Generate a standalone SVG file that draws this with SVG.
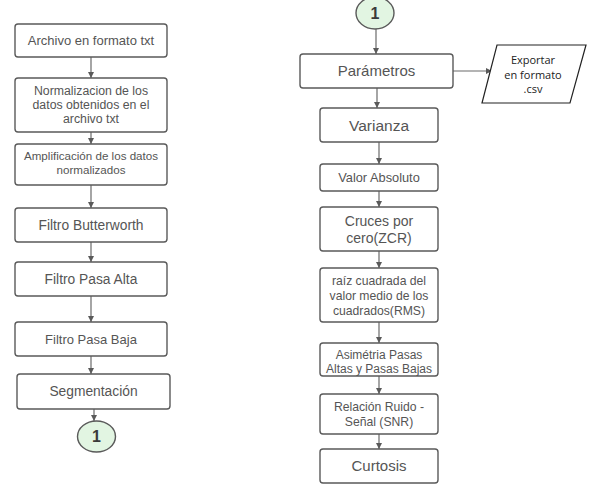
<svg xmlns="http://www.w3.org/2000/svg" width="591" height="485" viewBox="0 0 591 485">
<defs>
<style>
.box{fill:#fff;stroke:#5a5a5a;stroke-width:1.4}
.t{font-family:"Liberation Sans",Arial,sans-serif;fill:#555;text-anchor:middle}
.c{fill:#e2f5e2;stroke:#5a5a5a;stroke-width:1.4}
.n{font-family:"Liberation Sans",Arial,sans-serif;font-weight:bold;font-size:16px;fill:#3a3a3a;text-anchor:middle}
.e{font-family:"Open Sans","Noto Sans",sans-serif;font-size:11px;fill:#222;text-anchor:middle}
.ln{stroke:#6a6a6a;stroke-width:1.2;fill:none;marker-end:url(#ah)}
</style>
<marker id="ah" viewBox="0 0 8 8" refX="8" refY="4" markerWidth="6" markerHeight="6" markerUnits="userSpaceOnUse" orient="auto">
<path d="M0,0 L8,4 L0,8 z" fill="#5a5a5a"/>
</marker>
</defs>
<rect width="591" height="485" fill="#fff"/>
<g id="connectors">
<line class="ln" x1="91" y1="57" x2="91" y2="78"/>
<line class="ln" x1="91" y1="132" x2="91" y2="144"/>
<line class="ln" x1="91" y1="185" x2="91" y2="208"/>
<line class="ln" x1="91" y1="242" x2="91" y2="262"/>
<line class="ln" x1="91" y1="296" x2="91" y2="322"/>
<line class="ln" x1="91" y1="356" x2="91" y2="374"/>
<line class="ln" x1="94" y1="409" x2="94" y2="421"/>
<line class="ln" x1="376" y1="29" x2="376" y2="54"/>
<line class="ln" x1="377" y1="88" x2="377" y2="108"/>
<line class="ln" x1="379" y1="142" x2="379" y2="164"/>
<line class="ln" x1="379" y1="191" x2="379" y2="207"/>
<line class="ln" x1="379" y1="251" x2="379" y2="268"/>
<line class="ln" x1="379" y1="322" x2="379" y2="343"/>
<line class="ln" x1="379" y1="376" x2="379" y2="394"/>
<line class="ln" x1="379" y1="434" x2="379" y2="449"/>
<line class="ln" x1="453" y1="71" x2="492" y2="71"/>
</g>
<g id="archivo">
<rect class="box" x="15" y="24" width="152" height="33" rx="3"/>
<text class="t" x="91" y="45" font-size="13">Archivo en formato txt</text>
</g>
<g id="normalizacion">
<rect class="box" x="15" y="78" width="152" height="54" rx="3"/>
<text class="t" x="91" y="94.5" font-size="12.3">Normalizacion de los</text>
<text class="t" x="91" y="109" font-size="12.3">datos obtenidos en el</text>
<text class="t" x="91" y="123" font-size="12.3">archivo txt</text>
</g>
<g id="amplificacion">
<rect class="box" x="15" y="144" width="152" height="41" rx="3"/>
<text class="t" x="91" y="159.5" font-size="11.6">Amplificación de los datos</text>
<text class="t" x="91" y="173.5" font-size="11.6">normalizados</text>
</g>
<g id="butterworth">
<rect class="box" x="15" y="208" width="152" height="34" rx="3"/>
<text class="t" x="91" y="229.5" font-size="13.8">Filtro Butterworth</text>
</g>
<g id="pasa-alta">
<rect class="box" x="15" y="262" width="152" height="34" rx="3"/>
<text class="t" x="91" y="283.5" font-size="13.8">Filtro Pasa Alta</text>
</g>
<g id="pasa-baja">
<rect class="box" x="15" y="322" width="152" height="34" rx="3"/>
<text class="t" x="91" y="343.5" font-size="13">Filtro Pasa Baja</text>
</g>
<g id="segmentacion">
<rect class="box" x="17" y="374" width="153" height="35" rx="3"/>
<text class="t" x="93.5" y="395.5" font-size="13.8">Segmentación</text>
</g>
<g id="conector-1a">
<ellipse class="c" cx="96.5" cy="436.5" rx="19" ry="15.5"/>
<text class="n" x="96.5" y="442">1</text>
</g>
<g id="conector-1b">
<ellipse class="c" cx="375" cy="13" rx="19" ry="16"/>
<text class="n" x="375" y="18.5">1</text>
</g>
<g id="parametros">
<rect class="box" x="300" y="54" width="153" height="34" rx="3"/>
<text class="t" x="376.5" y="76" font-size="15">Parámetros</text>
</g>
<g id="exportar">
<polygon points="497,45 586,45 570,103 482,103" fill="#fff" stroke="#222" stroke-width="1.2"/>
<text class="e" x="533" y="64">Exportar</text>
<text class="e" x="533" y="78.5">en formato</text>
<text class="e" x="533" y="93">.csv</text>
</g>
<g id="varianza">
<rect class="box" x="320" y="108" width="118" height="34" rx="3"/>
<text class="t" x="379" y="130.5" font-size="15.5">Varianza</text>
</g>
<g id="valor-absoluto">
<rect class="box" x="320" y="164" width="118" height="27" rx="3"/>
<text class="t" x="379" y="182" font-size="12.8">Valor Absoluto</text>
</g>
<g id="zcr">
<rect class="box" x="320" y="207" width="118" height="44" rx="3"/>
<text class="t" x="379" y="225.5" font-size="14">Cruces por</text>
<text class="t" x="379" y="242.5" font-size="14">cero(ZCR)</text>
</g>
<g id="rms">
<rect class="box" x="320" y="268" width="118" height="54" rx="3"/>
<text class="t" x="379" y="284.5" font-size="12.2">raíz cuadrada del</text>
<text class="t" x="379" y="299.5" font-size="12.2">valor medio de los</text>
<text class="t" x="379" y="314.5" font-size="12.2">cuadrados(RMS)</text>
</g>
<g id="asimetria">
<rect class="box" x="320" y="343" width="118" height="33" rx="3"/>
<text class="t" x="379" y="358.5" font-size="12">Asimétria Pasas</text>
<text class="t" x="379" y="372.5" font-size="12">Altas y Pasas Bajas</text>
</g>
<g id="snr">
<rect class="box" x="320" y="394" width="118" height="40" rx="3"/>
<text class="t" x="379" y="411" font-size="12.2">Relación Ruido -</text>
<text class="t" x="379" y="426" font-size="12.2">Señal (SNR)</text>
</g>
<g id="curtosis">
<rect class="box" x="320" y="449" width="118" height="34" rx="3"/>
<text class="t" x="379" y="471" font-size="15">Curtosis</text>
</g>
</svg>
